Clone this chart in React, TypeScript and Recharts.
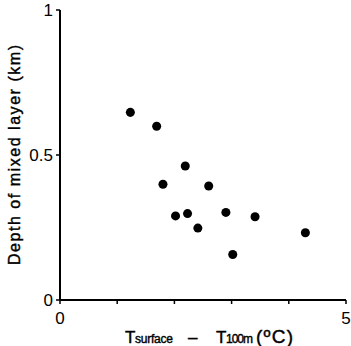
import React from 'react';
import { ScatterChart, Scatter, XAxis, YAxis, ZAxis } from 'recharts';

// temperature difference T_surface - T_100m (°C)
const tempDiff = [1.23, 1.69, 2.19, 1.8, 2.6, 2.02, 2.23, 2.9, 3.41, 2.41, 4.29, 3.02];
// depth of mixed layer (km)
const depth = [0.647, 0.599, 0.462, 0.399, 0.393, 0.29, 0.298, 0.302, 0.287, 0.248, 0.232, 0.157];

const xTicks = [0, 1, 2, 3, 4, 5];
const xTickLabels = ['0', '', '', '', '', '5'];
const yTicks = [0, 0.5, 1];
const yTickLabels = ['0', '0.5', '1'];

const points = tempDiff.map((t, i) => ({ x: t, y: depth[i] }));

const FONT = '"Liberation Sans", Arial, sans-serif';

const YLabel: React.FC<any> = () => (
  <text
    x={20}
    y={155}
    transform="rotate(-90 20 155)"
    textAnchor="middle"
    fontFamily={FONT}
    fontSize={16}
    textLength={220}
    lengthAdjust="spacing"
    fill="#000"
    stroke="#000"
    strokeWidth={0.4}
  >
    Depth of mixed layer (km)
  </text>
);

const XLabel: React.FC<any> = () => (
  <text y={343} fontFamily={FONT} fill="#000" stroke="#000" strokeWidth={0.4}>
    <tspan x={125} fontSize={17}>T</tspan>
    <tspan x={135} fontSize={12} textLength={38} lengthAdjust="spacing">surface</tspan>
    <tspan x={188} fontSize={17}>–</tspan>
    <tspan x={216} fontSize={17}>T</tspan>
    <tspan x={226} fontSize={12} textLength={27} lengthAdjust="spacing">100m</tspan>
    <tspan x={256} fontSize={19} textLength={37} lengthAdjust="spacing">(ºC)</tspan>
  </text>
);

const App: React.FC = () => {
  return (
    <div style={{ position: 'absolute', left: 0, top: 0, background: '#fff' }}>
      <ScatterChart width={351} height={346} margin={{ top: 10, right: 5, bottom: 0, left: 0 }}>
        <XAxis
          type="number"
          dataKey="x"
          domain={[0, 5]}
          ticks={xTicks}
          tickFormatter={(v: number) => xTickLabels[xTicks.indexOf(v)]}
          height={46}
          tickSize={4}
          tickMargin={8}
          axisLine={{ stroke: '#000', strokeWidth: 2 }}
          tickLine={{ stroke: '#000', strokeWidth: 1.5 }}
          tick={{ fill: '#000', fontSize: 17, fontFamily: FONT }}
          label={<XLabel />}
        />
        <YAxis
          type="number"
          dataKey="y"
          domain={[0, 1]}
          ticks={yTicks}
          tickFormatter={(v: number) => yTickLabels[yTicks.indexOf(v)]}
          width={60}
          tickSize={4}
          tickMargin={3}
          axisLine={{ stroke: '#000', strokeWidth: 2 }}
          tickLine={{ stroke: '#000', strokeWidth: 1.5 }}
          tick={{ fill: '#000', fontSize: 17, fontFamily: FONT }}
          label={<YLabel />}
        />
        <ZAxis range={[52, 52]} />
        <Scatter data={points} fill="#000" isAnimationActive={false} />
      </ScatterChart>
    </div>
  );
};

export default App;
